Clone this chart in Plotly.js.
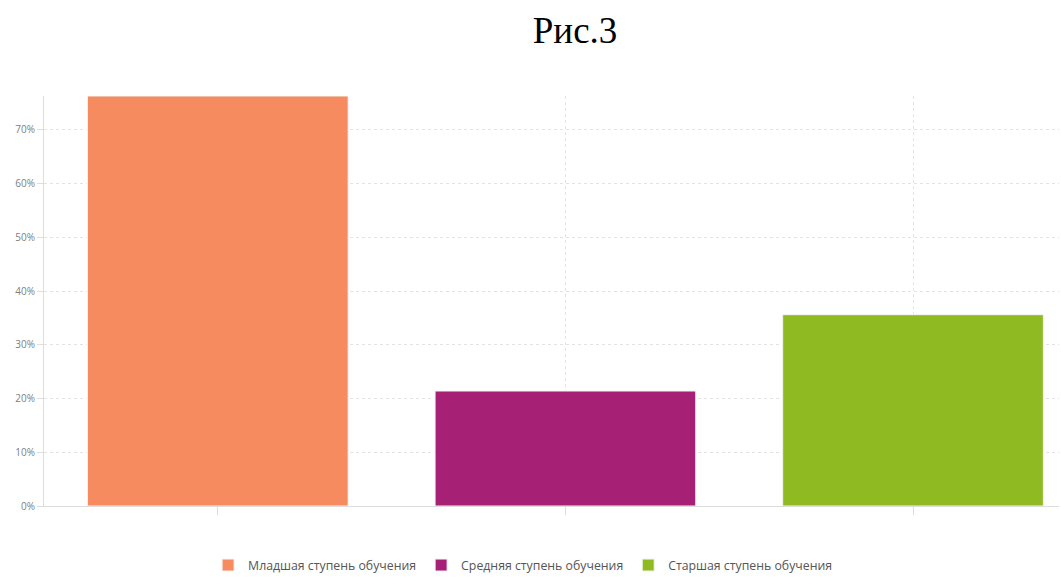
<!DOCTYPE html>
<html>
<head>
<meta charset="utf-8">
<script src="https://cdn.plot.ly/plotly-3.0.1.min.js"></script>
<style>html,body{margin:0;padding:0;background:#fff;}#chart{width:1061px;height:586px;}</style>
</head>
<body>
<div id="chart"></div>
<script>
const categories = ["Младшая ступень обучения", "Средняя ступень обучения", "Старшая ступень обучения"];
const values = [76.3, 21.4, 35.6];
const colors = ["#F58B5F", "#A62076", "#8FBA22"];
const yTickVals = [0, 10, 20, 30, 40, 50, 60, 70];
const yTickText = ["0%", "10%", "20%", "30%", "40%", "50%", "60%", "70%"];

const traces = categories.map((c, i) => ({
  type: "bar",
  name: c,
  x: [c],
  y: [values[i]],
  width: 0.75,
  marker: {color: colors[i], line: {color: "#f4f4f4", width: 1}},
  hoverinfo: "skip"
}));

const layout = {
  width: 1061, height: 586,
  margin: {l: 44, r: 2, t: 96, b: 80},
  paper_bgcolor: "#fff", plot_bgcolor: "#fff",
  barmode: "overlay",
  title: {text: "Рис.3", font: {family: "Liberation Serif, Times New Roman, serif", size: 37, color: "#000"},
          x: 0.542, xanchor: "center", y: 0.948, yanchor: "middle"},
  xaxis: {
    type: "category", categoryorder: "array", categoryarray: categories,
    range: [-0.5, 2.42],
    showticklabels: false, ticks: "outside", ticklen: 8, tickcolor: "#dddddd",
    showgrid: true, gridcolor: "#e3e3e3", griddash: "3px,3px",
    showline: true, linecolor: "#dddddd", linewidth: 1, zeroline: false, fixedrange: true
  },
  yaxis: {
    range: [0, 76.3], tickvals: yTickVals, ticktext: yTickText,
    ticks: "outside", ticklen: 6, tickcolor: "#dddddd",
    tickfont: {family: "Open Sans, sans-serif", size: 10, color: "#808080"},
    showgrid: true, gridcolor: "#e3e3e3", griddash: "3px,3px",
    showline: true, linecolor: "#dddddd", linewidth: 1, zeroline: false, fixedrange: true
  },
  showlegend: true,
  legend: {orientation: "h", x: 0.472, xanchor: "center", y: -0.144, yanchor: "middle",
           font: {family: "Open Sans, sans-serif", size: 12.3, color: "#555"},
           itemwidth: 30, itemclick: false, traceorder: "normal"},
  bargap: 0.25
};

Plotly.newPlot("chart", traces, layout, {displayModeBar: false, staticPlot: true});
</script>
</body>
</html>
